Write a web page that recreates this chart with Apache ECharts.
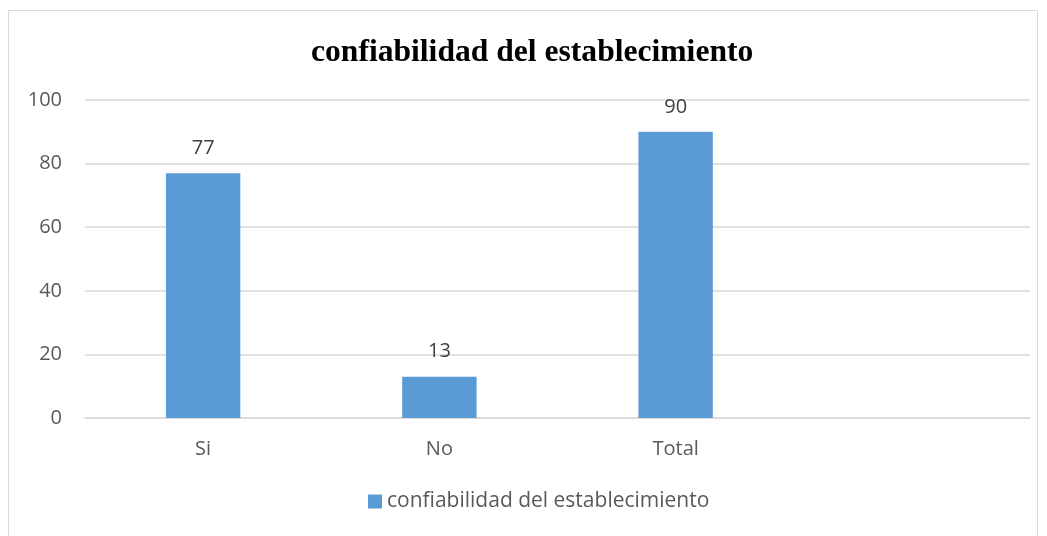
<!DOCTYPE html>
<html>
<head>
<meta charset="utf-8">
<script src="https://cdn.jsdelivr.net/npm/echarts@6/dist/echarts.min.js"></script>
<style>
  html, body { margin: 0; padding: 0; background: #ffffff; }
  #chart { width: 1047px; height: 536px; }
</style>
</head>
<body>
<div id="chart"></div>
<script>
// Categories (the last slot is left empty on purpose)
const categories = ['Si', 'No', 'Total', ''];
// Responses per category
const values = [77, 13, 90, null];
// Value axis range
const yMin = 0;
const yMax = 100;
const yStep = 20;
const seriesName = 'confiabilidad del establecimiento';
const titleText = 'confiabilidad del establecimiento';

const chart = echarts.init(document.getElementById('chart'), null, { renderer: 'canvas' });

const labelFont = '"Open Sans", Lato, sans-serif';

chart.setOption({
  animation: false,
  backgroundColor: '#ffffff',
  graphic: [{
    type: 'rect',
    shape: { x: 8.5, y: 10.5, width: 1029, height: 540 },
    style: { fill: 'none', stroke: '#d9d9d9', lineWidth: 1 },
    silent: true,
    z: -1
  }],
  title: {
    text: titleText,
    left: 306,
    top: 32,
    textStyle: {
      fontFamily: '"Liberation Serif", "DejaVu Serif", serif',
      fontWeight: 'bold',
      fontSize: 31.6,
      color: '#000000'
    }
  },
  legend: {
    bottom: 19,
    left: 363,
    itemWidth: 14,
    itemHeight: 14,
    itemGap: 5,
    icon: 'rect',
    textStyle: { fontFamily: labelFont, fontSize: 21, color: '#595959' },
    data: [seriesName]
  },
  grid: {
    left: 85,
    right: 17,
    top: 100,
    bottom: 118,
    containLabel: false
  },
  xAxis: {
    type: 'category',
    data: categories,
    axisLine: { show: true, lineStyle: { color: '#d9d9d9', width: 1.5 } },
    axisTick: { show: false },
    axisLabel: { fontFamily: labelFont, fontSize: 20, color: '#595959', margin: 21 }
  },
  yAxis: {
    type: 'value',
    min: yMin,
    max: yMax,
    interval: yStep,
    axisLine: { show: false },
    axisTick: { show: false },
    axisLabel: { fontFamily: labelFont, fontSize: 20, color: '#595959', margin: 23 },
    splitLine: { lineStyle: { color: '#d9d9d9', width: 1.5 } }
  },
  series: [{
    name: seriesName,
    type: 'bar',
    data: values,
    barWidth: '31.5%',
    itemStyle: { color: '#5b9bd5' },
    label: {
      show: true,
      position: 'top',
      distance: 15,
      fontFamily: labelFont,
      fontSize: 20,
      color: '#404040'
    }
  }]
});
</script>
</body>
</html>
